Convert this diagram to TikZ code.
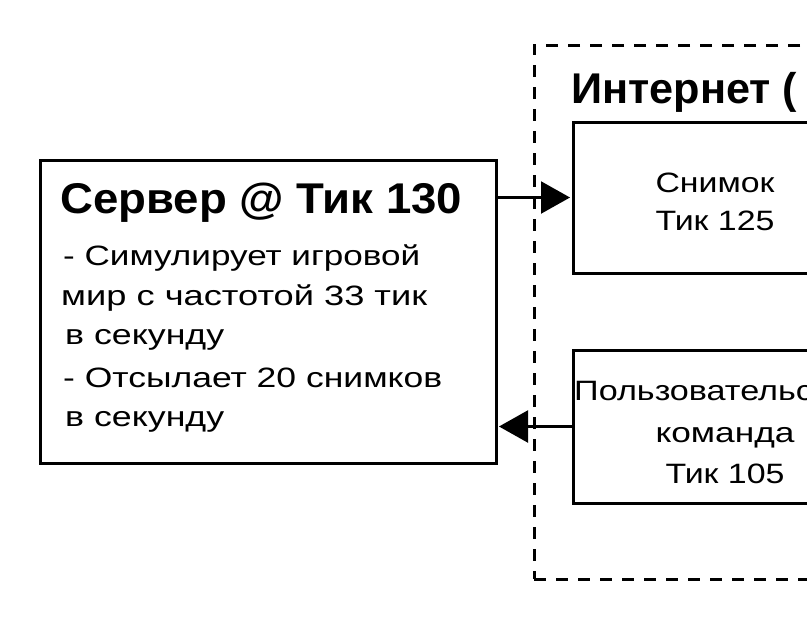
\documentclass[tikz,border=0pt]{standalone}
\usepackage{fontspec}
\setmainfont{Liberation Sans}
\usetikzlibrary{arrows.meta}
\newcommand{\hfitw}[2]{\resizebox{#1}{\height}{#2}}
\begin{document}
\begin{tikzpicture}[x=1pt,y=-1pt,
  box/.style={draw, line width=3pt, inner sep=0pt, outer sep=0pt},
  dbox/.style={draw, line width=3pt, dash pattern=on 12pt off 10pt, inner sep=0pt, outer sep=0pt},
  ttl/.style={inner sep=0pt, anchor=base west, font=\fontsize{43}{43}\selectfont\bfseries},
  txt/.style={inner sep=0pt, anchor=base west, font=\fontsize{28}{28}\selectfont},
  ctxt/.style={inner sep=0pt, anchor=base, font=\fontsize{28}{28}\selectfont},
  arr/.style={line width=2.2pt, -{Triangle[length=29pt,width=32pt]}, shorten >=3pt},
]
\useasboundingbox (0,0) rectangle (807,625);
\clip (0,0) rectangle (807,625);
\fill[white] (0,0) rectangle (807,625);

% Internet container
\node[dbox, minimum width=416pt, minimum height=534pt] (internet) at (742,312) {};
\node[ttl] (inettitle) at (571,103) {\hfitw{226pt}{Интернет (}};

% Server
\node[box, minimum width=456pt, minimum height=303pt] (server) at (268,311.5) {};
\node[ttl] (servtitle) at (60,213) {\hfitw{402pt}{Сервер @ Тик 130}};
\node[txt] (l1) at (63,265) {\hfitw{357pt}{- Симулирует игровой}};
\node[txt] (l2) at (61,305) {\hfitw{366pt}{мир с частотой 33 тик}};
\node[txt] (l3) at (65,344) {\hfitw{159pt}{в секунду}};
\node[txt] (l4) at (63,387) {\hfitw{379pt}{- Отсылает 20 снимков}};
\node[txt] (l5) at (65,426) {\hfitw{159pt}{в секунду}};

% Snapshot
\node[box, minimum width=287pt, minimum height=151pt] (snap) at (716.5,197.5) {};
\node[ctxt] (s1) at (715,192) {\hfitw{119pt}{Снимок}};
\node[ctxt] (s2) at (715,230) {\hfitw{119pt}{Тик 125}};

% User command
\node[box, minimum width=304pt, minimum height=153pt] (cmd) at (725,426.5) {};
\node[txt] (c1) at (574,400) {\scalebox{1.22}[1]{Пользовательская}};
\node[ctxt] (c2) at (725,442) {\hfitw{139pt}{команда}};
\node[ctxt] (c3) at (725,483) {\hfitw{119pt}{Тик 105}};

% Connectors
\draw[arr] (server.east |- snap.west) -- (snap.west);
\draw[arr] (cmd.west) -- (server.east |- cmd.west);
\end{tikzpicture}
\end{document}
